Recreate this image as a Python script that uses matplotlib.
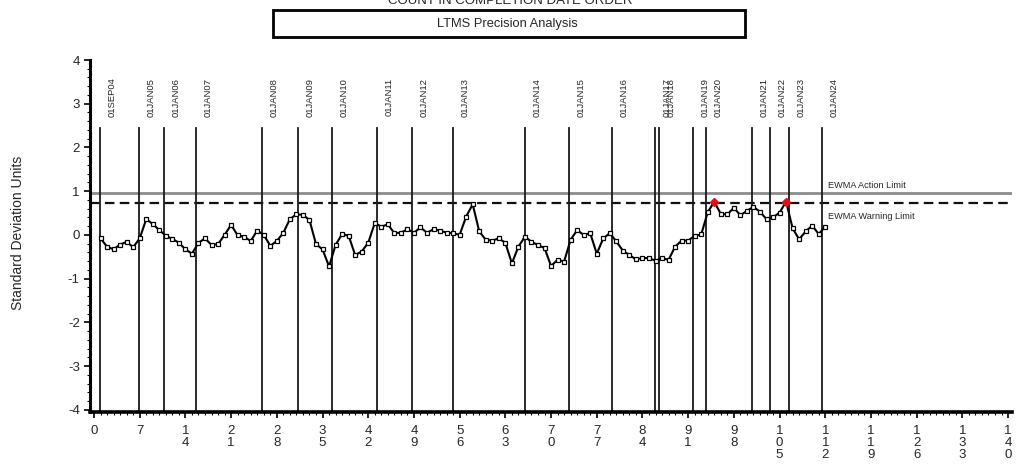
import numpy as np
import matplotlib
matplotlib.use("Agg")
import matplotlib.pyplot as plt
from matplotlib.patches import Rectangle

plt.rcParams["font.family"] = ["Liberation Sans", "DejaVu Sans"]
plt.rcParams["axes.unicode_minus"] = False

# EWMA of standard deviation units, one value per test in completion order
test_order = np.arange(1, 113)
ewma = [
    -0.08, -0.27, -0.33, -0.22, -0.16, -0.28, -0.08, 0.36, 0.25, 0.11,
    -0.02, -0.09, -0.18, -0.33, -0.43, -0.18, -0.08, -0.23, -0.21, 0.00,
    0.23, -0.01, -0.04, -0.14, 0.10, 0.00, -0.25, -0.14, 0.05, 0.36,
    0.47, 0.46, 0.34, -0.21, -0.33, -0.72, -0.23, 0.02, -0.02, -0.46,
    -0.38, -0.18, 0.27, 0.19, 0.24, 0.04, 0.05, 0.13, 0.05, 0.17,
    0.05, 0.13, 0.10, 0.05, 0.04, 0.00, 0.42, 0.70, 0.08, -0.11,
    -0.13, -0.08, -0.18, -0.65, -0.27, -0.04, -0.16, -0.23, -0.30, -0.71,
    -0.57, -0.61, -0.11, 0.11, 0.00, 0.04, -0.43, -0.08, 0.04, -0.15,
    -0.36, -0.46, -0.56, -0.53, -0.53, -0.59, -0.53, -0.57, -0.27, -0.13,
    -0.13, -0.02, 0.01, 0.52, 0.76, 0.48, 0.47, 0.62, 0.45, 0.55,
    0.64, 0.53, 0.36, 0.40, 0.51, 0.76, 0.15, -0.10, 0.08, 0.21,
    0.02, 0.19,
]

action_limit = 0.95
warning_limit = 0.74

# date markers (test index where each period starts)
date_pos = [0.9, 6.9, 10.7, 15.6, 25.7, 31.2, 36.4, 43.3, 48.7, 55.0, 66.0,
            72.7, 79.3, 85.9, 86.5, 91.7, 93.7, 100.8, 103.5, 106.4, 111.5]
date_labels = ["01SEP04", "01JAN05", "01JAN06", "01JAN07", "01JAN08", "01JAN09",
               "01JAN10", "01JAN11", "01JAN12", "01JAN13", "01JAN14", "01JAN15",
               "01JAN16", "01JAN17", "01JAN18", "01JAN19", "01JAN20", "01JAN21",
               "01JAN22", "01JAN23", "01JAN24"]

x_ticks = list(range(0, 141, 7))
y_ticks = list(range(-4, 5))

fig = plt.figure(figsize=(10.3, 4.76), dpi=100)
ax = fig.add_axes([89.5 / 1030, 1 - 412 / 476, (1012 - 89.5) / 1030, 352 / 476])
ax.set_xlim(-0.69, 140.6)
ax.set_ylim(-4.05, 4.0)

txt = "#262626"

# date separators and their labels
for pos, lab in zip(date_pos, date_labels):
    ax.plot([pos, pos], [-4.05, 2.45], color="#1a1a1a", lw=1.3, zorder=2)
    ax.annotate(lab, (pos, 3.15), xytext=(12, 0), textcoords="offset pixels",
                rotation=90, ha="center", va="center", fontsize=6.8, color=txt)

# limits
ax.axhline(action_limit, color="#8c8c8c", lw=2, zorder=1)
ax.axhline(warning_limit, color="#111111", lw=1.6, dashes=(4.3, 2.4), zorder=1)
ax.text(112.4, 1.14, "EWMA Action Limit", fontsize=6.6, color=txt, va="center")
ax.text(112.4, 0.43, "EWMA Warning Limit", fontsize=6.6, color=txt, va="center")

# EWMA series
vals = np.array(ewma)
ax.plot(test_order, vals, color="black", lw=1.5, marker="s", ms=3.4,
        mfc="white", mec="black", mew=0.9, zorder=3)
over = vals > warning_limit
ax.plot(test_order[over], vals[over], ls="none", marker="D", ms=3.8,
        color="#e0101a", zorder=4)

# axes styling
for side in ("top", "right"):
    ax.spines[side].set_visible(False)
ax.spines["left"].set_linewidth(2.2)
ax.spines["bottom"].set_linewidth(2.6)
ax.spines["left"].set_bounds(-4.05, 4.0)

ax.set_yticks(y_ticks)
ax.set_yticklabels([str(v) for v in y_ticks], fontsize=9.5, color=txt)
ax.set_yticks(np.arange(-4, 4.01, 0.2), minor=True)
ax.set_xticks(x_ticks)
ax.set_xticklabels(["\n".join(str(v)) for v in x_ticks], fontsize=9.5,
                   color=txt, linespacing=1.05)
ax.set_xticks(np.arange(0, 141, 1), minor=True)
ax.tick_params(axis="both", which="major", direction="out", length=4,
               width=1.2, pad=3)
ax.tick_params(axis="x", which="major", pad=5)
ax.tick_params(axis="both", which="minor", direction="out", length=2.5,
               width=0.8)

fig.text(18 / 1030, 1 - 233 / 476, "Standard Deviation Units", rotation=90,
         ha="center", va="center", fontsize=10, color=txt)

# heading and boxed subtitle
fig.text(510 / 1030, 1 - 4 / 476, "COUNT IN COMPLETION DATE ORDER",
         ha="center", va="baseline", fontsize=9.5, color=txt)
fig.patches.append(Rectangle((273 / 1030, 1 - 37 / 476), (745 - 273) / 1030,
                             27 / 476, transform=fig.transFigure, fill=False,
                             lw=2, edgecolor="black"))
fig.text(507 / 1030, 1 - 23.5 / 476, "LTMS Precision Analysis",
         ha="center", va="center", fontsize=9.3, color=txt)

fig.savefig("out.png", dpi=100)
